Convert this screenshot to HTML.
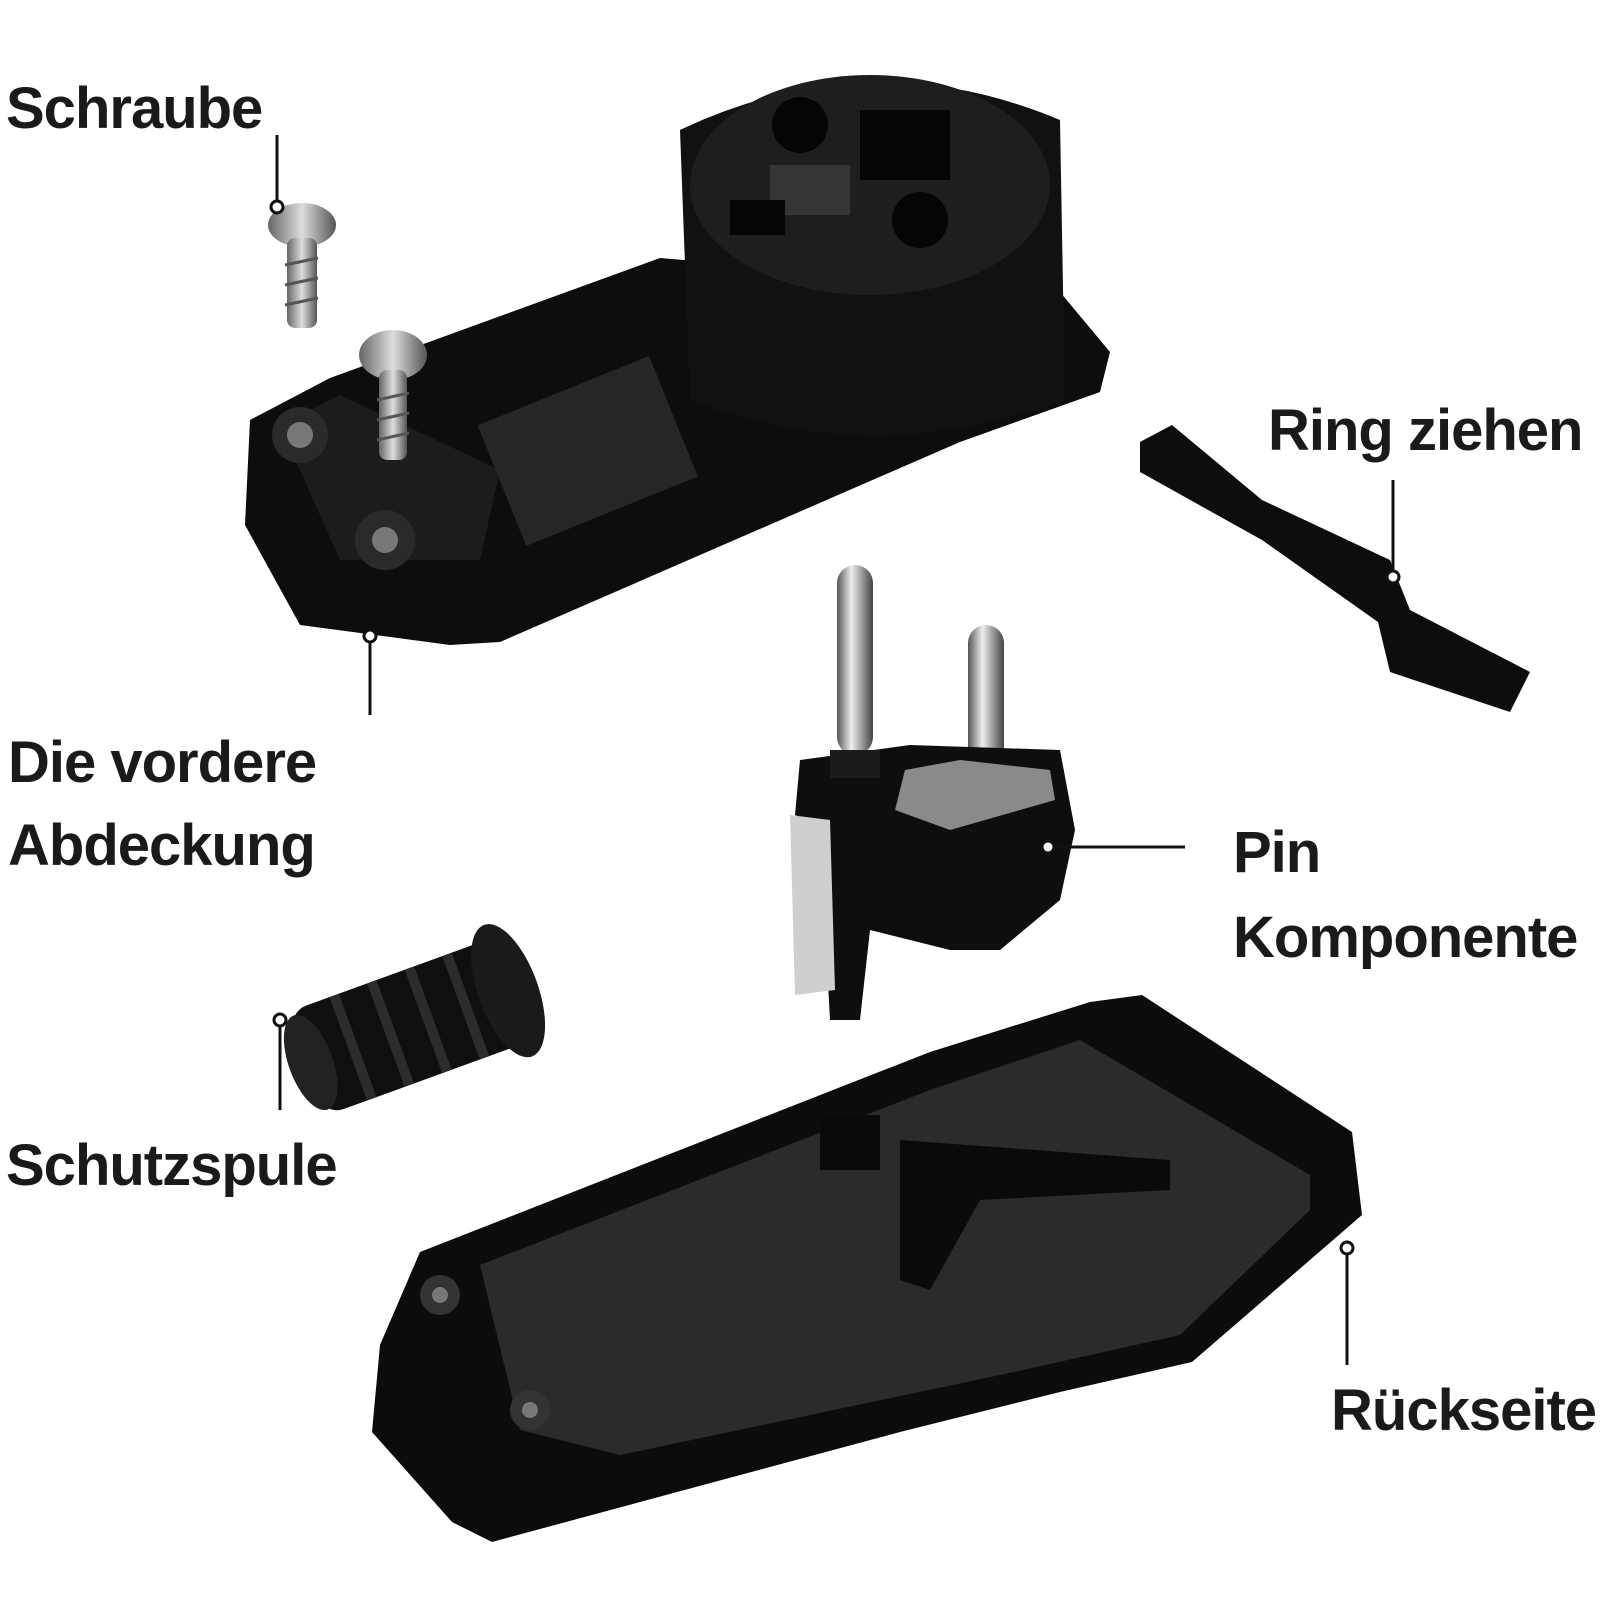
<!DOCTYPE html>
<html><head><meta charset="utf-8"><style>
html,body{margin:0;padding:0;background:#fff;}
svg{display:block}
text{font-family:"Liberation Sans",sans-serif;font-weight:bold;fill:#1a1a1a;font-size:58px;letter-spacing:-1px}
</style></head><body>
<svg width="1600" height="1600" viewBox="0 0 1600 1600" xmlns="http://www.w3.org/2000/svg">
<rect width="1600" height="1600" fill="#fff"/>
<defs>
<linearGradient id="pin" x1="0" x2="1"><stop offset="0" stop-color="#555"/><stop offset=".4" stop-color="#eee"/><stop offset="1" stop-color="#444"/></linearGradient>
<linearGradient id="scr" x1="0" x2="1"><stop offset="0" stop-color="#666"/><stop offset=".5" stop-color="#ddd"/><stop offset="1" stop-color="#555"/></linearGradient>
</defs>

<polygon points="250,420 330,378 660,258 1060,292 1110,352 1100,392 960,442 500,642 450,645 300,625 245,525" fill="#0d0d0d"/>
<polygon points="280,425 340,395 500,470 480,560 340,560" fill="#1c1c1c"/>
<rect x="495" y="385" width="185" height="130" transform="rotate(-22 590 450)" fill="#262626"/>
<circle cx="300" cy="435" r="28" fill="#2a2a2a"/><circle cx="300" cy="435" r="13" fill="#777"/>
<circle cx="385" cy="540" r="30" fill="#2a2a2a"/><circle cx="385" cy="540" r="13" fill="#777"/>
<path d="M680,130 Q870,40 1060,120 L1065,400 Q870,470 690,400 Z" fill="#111"/>
<ellipse cx="870" cy="185" rx="180" ry="110" fill="#1e1e1e"/>
<circle cx="800" cy="125" r="28" fill="#050505"/>
<circle cx="920" cy="220" r="28" fill="#050505"/>
<rect x="860" y="110" width="90" height="70" fill="#050505"/>
<rect x="770" y="165" width="80" height="50" fill="#353535"/>
<rect x="730" y="200" width="55" height="35" fill="#050505"/>

<ellipse cx="302" cy="225" rx="34" ry="22" fill="url(#scr)"/>
<rect x="287" y="238" width="30" height="90" rx="8" fill="url(#scr)"/>
<g stroke="#555" stroke-width="3"><line x1="285" y1="265" x2="318" y2="258"/><line x1="285" y1="285" x2="318" y2="278"/><line x1="285" y1="305" x2="318" y2="298"/></g>
<ellipse cx="393" cy="355" rx="34" ry="25" fill="url(#scr)"/>
<rect x="379" y="370" width="28" height="90" rx="8" fill="url(#scr)"/>
<g stroke="#555" stroke-width="3"><line x1="377" y1="400" x2="409" y2="393"/><line x1="377" y1="420" x2="409" y2="413"/><line x1="377" y1="440" x2="409" y2="433"/></g>

<polygon points="1140,442 1172,425 1262,500 1390,560 1410,610 1530,672 1510,712 1390,672 1378,622 1262,540 1140,472" fill="#0d0d0d"/>

<rect x="837" y="565" width="36" height="190" rx="18" fill="url(#pin)"/>
<rect x="968" y="625" width="36" height="200" rx="18" fill="url(#pin)"/>
<polygon points="800,760 910,745 1060,750 1075,830 1060,900 1000,950 950,950 870,930 860,1020 830,1020 820,830 795,815" fill="#0e0e0e"/>
<polygon points="905,770 960,760 1050,770 1055,800 950,830 895,810" fill="#8a8a8a"/>
<rect x="830" y="750" width="50" height="28" fill="#1b1b1b"/>
<polygon points="790,815 830,820 835,990 795,995" fill="#cfcfcf"/>

<g transform="rotate(-20 400 1030)">
<rect x="300" y="975" width="220" height="110" rx="20" fill="#0f0f0f"/>
<ellipse cx="515" cy="1030" rx="30" ry="70" fill="#1a1a1a"/>
<ellipse cx="305" cy="1030" rx="22" ry="50" fill="#222"/>
<g fill="#2c2c2c"><rect x="345" y="975" width="10" height="110"/><rect x="385" y="975" width="10" height="110"/><rect x="425" y="975" width="10" height="110"/><rect x="465" y="975" width="10" height="110"/></g>
</g>

<polygon points="372,1432 380,1345 420,1252 930,1052 1090,1002 1142,995 1352,1132 1362,1215 1192,1362 1060,1392 900,1432 640,1502 492,1542 452,1522" fill="#0c0c0c"/>
<polygon points="480,1265 930,1090 1080,1040 1310,1175 1310,1210 1180,1335 1000,1375 620,1455 520,1430" fill="#2b2b2b"/>
<polygon points="900,1140 1170,1160 1170,1190 980,1200 930,1290 900,1280" fill="#0a0a0a"/>
<rect x="820" y="1115" width="60" height="55" fill="#0a0a0a"/>
<circle cx="440" cy="1295" r="20" fill="#333"/><circle cx="440" cy="1295" r="8" fill="#777"/>
<circle cx="530" cy="1410" r="20" fill="#333"/><circle cx="530" cy="1410" r="8" fill="#777"/>

<g stroke="#111" stroke-width="3" fill="#fff">
<line x1="277" y1="135" x2="277" y2="205"/><circle cx="277" cy="207" r="6"/>
<line x1="370" y1="638" x2="370" y2="715"/><circle cx="370" cy="636" r="6"/>
<line x1="1393" y1="480" x2="1393" y2="575"/><circle cx="1393" cy="577" r="6"/>
<line x1="1050" y1="847" x2="1185" y2="847"/><circle cx="1048" cy="847" r="6"/>
<line x1="280" y1="1022" x2="280" y2="1110"/><circle cx="280" cy="1020" r="6"/>
<line x1="1347" y1="1250" x2="1347" y2="1365"/><circle cx="1347" cy="1248" r="6"/>
</g>

<text x="6" y="128">Schraube</text>
<text x="8" y="782">Die vordere</text>
<text x="8" y="865">Abdeckung</text>
<text x="1268" y="450">Ring ziehen</text>
<text x="1233" y="872">Pin</text>
<text x="1233" y="957">Komponente</text>
<text x="6" y="1185">Schutzspule</text>
<text x="1331" y="1430">Rückseite</text>
</svg>
</body></html>
